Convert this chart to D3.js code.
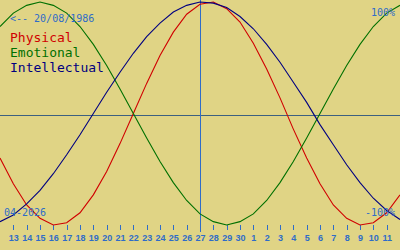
<!DOCTYPE html>
<html><head><meta charset="utf-8">
<script src="https://cdn.jsdelivr.net/npm/d3@7"></script>
<style>
html,body{margin:0;padding:0;background:#e0d485;}
svg{display:block;}
text{font-family:"DejaVu Sans Mono",monospace;}
</style></head>
<body>
<svg id="c" width="400" height="250"></svg>
<script>
// day offsets -1..29 (12 Apr 2026 .. 12 May 2026)
const offsets = d3.range(-1, 30);
const dayLabels = ["13","14","15","16","17","18","19","20","21","22","23","24","25","26","27","28","29","30","1","2","3","4","5","6","7","8","9","10","11"];
const physical = [-0.40,-0.63,-0.82,-0.94,-1.00,-0.98,-0.89,-0.73,-0.52,-0.27,0.00,0.27,0.52,0.73,0.89,0.98,1.00,0.94,0.82,0.63,0.40,0.14,-0.14,-0.40,-0.63,-0.82,-0.94,-1.00,-0.98,-0.89,-0.73];
const emotional = [0.78,0.90,0.97,1.00,0.97,0.90,0.78,0.62,0.43,0.22,0.00,-0.22,-0.43,-0.62,-0.78,-0.90,-0.97,-1.00,-0.97,-0.90,-0.78,-0.62,-0.43,-0.22,0.00,0.22,0.43,0.62,0.78,0.90,0.97];
const intellectual = [-0.97,-0.91,-0.81,-0.69,-0.54,-0.37,-0.19,0.00,0.19,0.37,0.54,0.69,0.81,0.91,0.97,1.00,0.99,0.95,0.87,0.76,0.62,0.46,0.28,0.10,-0.10,-0.28,-0.46,-0.62,-0.76,-0.87,-0.95];
const seriesNames = ["Physical","Emotional","Intellectual"];
const seriesColors = ["#d00000","#007000","#000080"];
const todayOffset = 14;

const svg = d3.select("#c");
const W = 400, H = 250;
svg.append("rect").attr("width",W).attr("height",H).attr("fill","#e0d485");

const x = d3.scaleLinear().domain([-1, 29]).range([0, 400]);
const y = d3.scaleLinear().domain([-1, 1]).range([225, 2]);

// zero line
svg.append("line").attr("x1",0).attr("x2",W).attr("y1",115.5).attr("y2",115.5)
  .attr("stroke","#3c6080").attr("stroke-width",1);
// today line
svg.append("line").attr("x1",x(todayOffset)+0.5).attr("x2",x(todayOffset)+0.5).attr("y1",0).attr("y2",232)
  .attr("stroke","#2f6cc8").attr("stroke-width",1);

// ticks via axis
const tickVals = d3.range(0, 29);
const axis = d3.axisBottom(x).tickValues(tickVals).tickSize(5).tickFormat(d => dayLabels[d]);
const ag = svg.append("g").attr("transform","translate(0,225)").call(axis);
ag.select(".domain").remove();
ag.selectAll(".tick line").attr("stroke","#2f6cc8").attr("shape-rendering","crispEdges");
ag.selectAll(".tick text").attr("fill","#2f6cc8").attr("y",16).attr("dy","0")
  .style("font-size","9px").style("font-weight","bold").style("font-family","Liberation Sans, Arial, sans-serif");

const line = d3.line().x((d,i)=>x(offsets[i])).y(d=>y(d));
[physical, emotional, intellectual].forEach((s,k)=>{
  svg.append("path").datum(s).attr("d", line).attr("fill","none")
    .attr("stroke", seriesColors[k]).attr("stroke-width",1.1);
});

// texts
svg.append("text").attr("x",10).attr("y",22).attr("fill","#2f6cc8").style("font-size","10px").text("<-- 20/08/1986");
seriesNames.forEach((n,k)=>{
  svg.append("text").attr("x",10).attr("y",42+15*k).attr("fill",seriesColors[k]).style("font-size","13px").text(n);
});
svg.append("text").attr("x",395).attr("y",16).attr("text-anchor","end").attr("fill","#2f6cc8").style("font-size","10px").text("100%");
svg.append("text").attr("x",395).attr("y",216).attr("text-anchor","end").attr("fill","#2f6cc8").style("font-size","10px").text("-100%");
svg.append("text").attr("x",4).attr("y",216).attr("fill","#2f6cc8").style("font-size","10px").text("04-2026");
</script>
</body></html>
